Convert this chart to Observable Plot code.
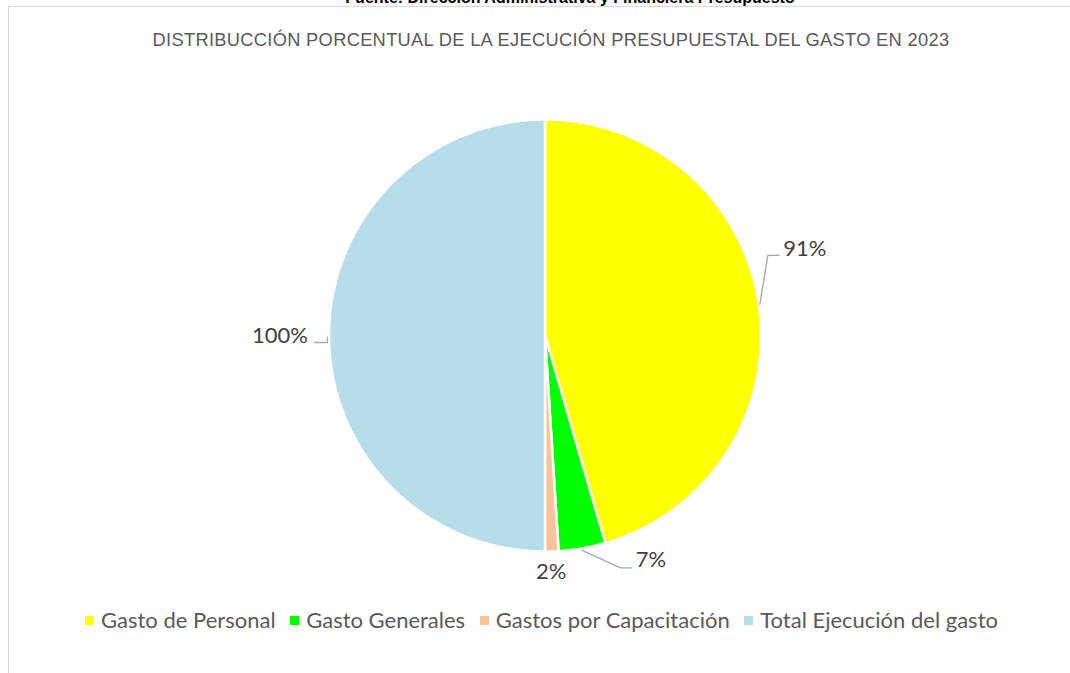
<!DOCTYPE html>
<html>
<head>
<meta charset="utf-8">
<script src="https://cdn.jsdelivr.net/npm/d3@7"></script>
<script src="https://cdn.jsdelivr.net/npm/@observablehq/plot@0.6"></script>
<style>
  html, body { margin: 0; padding: 0; background: #fff; }
  body { width: 1070px; height: 673px; overflow: hidden; position: relative; }
  #frame { position: absolute; left: 8px; top: 6px; width: 1100px; height: 720px;
           border: 1.5px solid #D9D9D9; box-sizing: border-box; }
  #source { position: absolute; left: 0; width: 1140px; top: -9.7px; text-align: center;
            font-family: "Liberation Sans", Arial, sans-serif; font-weight: bold; font-size: 16px;
            line-height: 16px; color: #000; white-space: nowrap; }
  #title { position: absolute; left: 0; width: 1102px; top: 29px; text-align: center;
           font-family: "Liberation Sans", Arial, sans-serif; font-size: 18.3px; letter-spacing: 0.3px;
           line-height: 22px; color: #595959; white-space: nowrap; }
  #chart { position: absolute; left: 0; top: 0; }
  #legend { position: absolute; left: 0; width: 1083px; top: 606px; display: flex;
            justify-content: center; align-items: center; font-family: Lato, "Open Sans", sans-serif;
            font-size: 22px; line-height: 28px; color: #595959; white-space: nowrap; }
  .item { display: flex; align-items: center; margin: 0 7.3px; }
  .sw { width: 9px; height: 9px; margin-right: 7px; }
</style>
</head>
<body>
<div id="frame"></div>
<div id="source"></div>
<div id="title"></div>
<div id="chart"></div>
<div id="legend"></div>
<script>
// ---- data ----
const sourceText = "Fuente: Dirección Administrativa y Financiera Presupuesto";
const titleText = "DISTRIBUCCIÓN PORCENTUAL DE LA EJECUCIÓN PRESUPUESTAL DEL GASTO EN 2023";
const categories = ["Gasto de Personal", "Gasto Generales", "Gastos por Capacitación", "Total Ejecución del gasto"];
const values = [91, 7, 2, 100];
const valueLabels = ["91%", "7%", "2%", "100%"];
const colors = ["#FFFF00", "#00FF00", "#F9C39A", "#B7DEE8"];

// ---- layout (pixel offsets from each slice's outer mid point) ----
const R = 216;
const leaderOffsets = [
  [[1, -1], [9, -49.6], [20, -49.6]],
  [[0, 2], [38.4, 19.5], [49.4, 19.5]],
  null,
  [[-1.5, 1.5], [-1.5, 7], [-14.5, 7]]
];
const labelOffsets = [
  {dx: 24.5, dy: -56.5, anchor: "start"},
  {dx: 53.5, dy: 11.8, anchor: "start"},
  {dx: -0.5, dy: 21, anchor: "middle"},
  {dx: -21, dy: 0, anchor: "end"}
];

document.getElementById("source").textContent = sourceText;
document.getElementById("title").textContent = titleText;

// ---- geometry from data ----
const arcs = d3.pie().sort(null).value(d => d)(values);
const slicePts = [];
const mids = [];
arcs.forEach((a, i) => {
  const cat = categories[i];
  slicePts.push({cat, x: 0, y: 0});
  const n = Math.max(2, Math.ceil((a.endAngle - a.startAngle) / 0.004));
  for (let k = 0; k <= n; k++) {
    const t = a.startAngle + (a.endAngle - a.startAngle) * k / n;
    slicePts.push({cat, x: Math.sin(t), y: Math.cos(t)});
  }
  const m = (a.startAngle + a.endAngle) / 2;
  mids.push({x: Math.sin(m), y: Math.cos(m)});
});

const leaderPts = [];
leaderOffsets.forEach((offs, i) => {
  if (!offs) return;
  offs.forEach(([ox, oy]) => leaderPts.push({cat: categories[i], x: mids[i].x + ox / R, y: mids[i].y - oy / R}));
});

const labelMarks = valueLabels.map((lab, i) => {
  const o = labelOffsets[i];
  return Plot.text([{x: mids[i].x + o.dx / R, y: mids[i].y - o.dy / R, t: lab}], {
    x: "x", y: "y", text: "t", textAnchor: o.anchor, lineAnchor: "middle",
    fill: "#404040", fontSize: 22, fontFamily: "Lato, 'Open Sans', sans-serif"
  });
});

const cx = 544.5, cy = 335;
const plot = Plot.plot({
  width: 1070,
  height: 673,
  margin: 0,
  style: {background: "transparent", overflow: "visible"},
  x: {domain: [-1, 1], range: [cx - R, cx + R], axis: null},
  y: {domain: [-1, 1], range: [cy + R, cy - R], axis: null},
  color: {domain: categories, range: colors},
  marks: [
    Plot.line(slicePts, {x: "x", y: "y", z: "cat", fill: "cat", stroke: "white",
      strokeWidth: 2.5, strokeLinejoin: "miter", curve: "linear-closed"}),
    Plot.line(leaderPts, {x: "x", y: "y", z: "cat", stroke: "#A6A6A6", strokeWidth: 1.3}),
    ...labelMarks
  ]
});
document.getElementById("chart").appendChild(plot);

// ---- legend ----
const legend = document.getElementById("legend");
categories.forEach((c, i) => {
  const item = document.createElement("div");
  item.className = "item";
  const sw = document.createElement("span");
  sw.className = "sw";
  sw.style.background = colors[i];
  const tx = document.createElement("span");
  tx.textContent = c;
  item.appendChild(sw);
  item.appendChild(tx);
  legend.appendChild(item);
});
</script>
</body>
</html>
